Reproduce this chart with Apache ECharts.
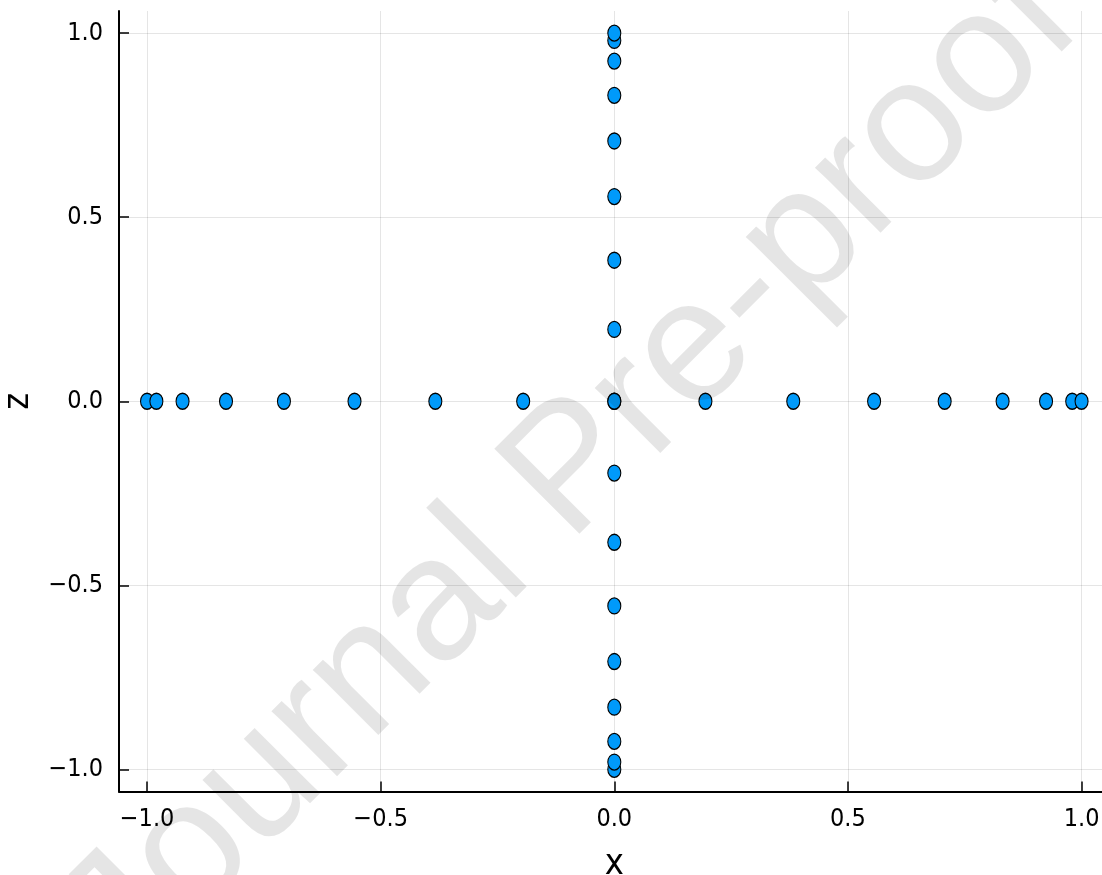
<!DOCTYPE html>
<html>
<head>
<meta charset="utf-8">
<script src="https://cdn.jsdelivr.net/npm/echarts@6/dist/echarts.min.js"></script>
<style>
html,body{margin:0;padding:0;background:#fff;}
#chart{width:1102px;height:875px;}
</style>
</head>
<body>
<div id="chart"></div>
<script>
// Points lying on the x axis (z = 0)
const xAxisPointsX = [-1.0, -0.98, -0.924, -0.831, -0.707, -0.556, -0.383, -0.195, 0.0, 0.195, 0.383, 0.556, 0.707, 0.831, 0.924, 0.98, 1.0];
// Points lying on the z axis (x = 0)
const zAxisPointsZ = [-1.0, -0.98, -0.924, -0.831, -0.707, -0.556, -0.383, -0.195, 0.0, 0.195, 0.383, 0.556, 0.707, 0.831, 0.924, 0.98, 1.0];
const xTicks = [-1.0, -0.5, 0.0, 0.5, 1.0];
const zTicks = [-1.0, -0.5, 0.0, 0.5, 1.0];
const xLabel = 'x';
const zLabel = 'z';
const watermark = 'Journal Pre-proof';

const data = [];
xAxisPointsX.forEach(v => data.push([v, 0]));
zAxisPointsZ.forEach(v => data.push([0, v]));

const tickFont = "'DejaVu Sans Condensed', 'DejaVu Sans', sans-serif";
const fmt = v => (v < 0 ? '\u2212' : '') + Math.abs(v).toFixed(1);

const chart = echarts.init(document.getElementById('chart'), null, {renderer: 'canvas'});
chart.setOption({
  animation: false,
  backgroundColor: '#ffffff',
  grid: {left: 119, top: 11, width: 990.6, height: 780.5, containLabel: false, outerBoundsMode: 'none'},
  xAxis: {
    type: 'value', min: -1.06, max: 1.06,
    name: xLabel, nameLocation: 'middle', nameGap: 55,
    nameTextStyle: {fontFamily: tickFont, fontSize: 36, color: '#000'},
    axisLine: {show: true, onZero: false, lineStyle: {color: '#000', width: 2}},
    axisTick: {show: true, inside: true, length: 10, customValues: xTicks, lineStyle: {color: '#000', width: 1.5}},
    axisLabel: {show: true, customValues: xTicks, formatter: fmt, fontFamily: tickFont, fontSize: 25, color: '#000', margin: 15},
    splitLine: {show: true, lineStyle: {color: 'rgba(0,0,0,0.1)', width: 1}}
  },
  yAxis: {
    type: 'value', min: -1.06, max: 1.06,
    name: zLabel, nameLocation: 'middle', nameGap: 82, nameRotate: 90,
    nameTextStyle: {fontFamily: tickFont, fontSize: 36, color: '#000'},
    axisLine: {show: true, onZero: false, lineStyle: {color: '#000', width: 2}},
    axisTick: {show: true, inside: true, length: 10, customValues: zTicks, lineStyle: {color: '#000', width: 1.5}},
    axisLabel: {show: true, customValues: zTicks, formatter: fmt, fontFamily: tickFont, fontSize: 25, color: '#000', margin: 16},
    splitLine: {show: true, lineStyle: {color: 'rgba(0,0,0,0.1)', width: 1}}
  },
  series: [{
    type: 'scatter',
    data: data,
    symbol: 'circle',
    symbolSize: [13, 16],
    itemStyle: {color: '#009AFA', borderColor: '#000', borderWidth: 1.2, opacity: 1},
    z: 3
  }],
  graphic: [{
    type: 'text',
    x: 573, y: 472,
    rotation: Math.PI / 4,
    z: 100,
    silent: true,
    style: {
      text: watermark,
      font: "175px 'Liberation Sans', Arial, sans-serif",
      fill: 'rgba(0,0,0,0.1)',
      align: 'center',
      verticalAlign: 'middle'
    }
  }]
});
</script>
</body>
</html>
